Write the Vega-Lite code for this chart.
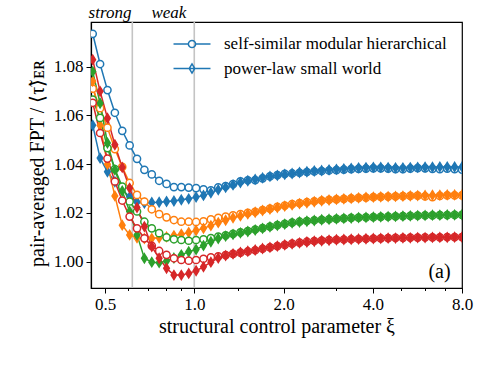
{
"$schema":"https://vega.github.io/schema/vega-lite/v6.json",
"width":371,"height":266,
"autosize":{"type":"none"},
"padding":{"left":91,"top":22,"right":29,"bottom":80},
"background":"white",
"datasets":{
"refs":[{"x":0.618},{"x":1.0}],
"notes":[{"x":0.5197,"y":1.1,"t":"strong"},{"x":0.8215,"y":1.1,"t":"weak"}],
"panel":[{"x":6.72,"y":0.9933,"t":"(a)"}],
"main":[
{"x":0.4544,"y":1.0935,"grp":"g1","net":"SSMH"},{"x":0.4812,"y":1.0811,"grp":"g1","net":"SSMH"},{"x":0.5095,"y":1.0704,"grp":"g1","net":"SSMH"},{"x":0.5397,"y":1.0611,"grp":"g1","net":"SSMH"},{"x":0.5715,"y":1.0537,"grp":"g1","net":"SSMH"},{"x":0.6053,"y":1.0477,"grp":"g1","net":"SSMH"},{"x":0.641,"y":1.0422,"grp":"g1","net":"SSMH"},{"x":0.6788,"y":1.0377,"grp":"g1","net":"SSMH"},{"x":0.7189,"y":1.0358,"grp":"g1","net":"SSMH"},{"x":0.7613,"y":1.0332,"grp":"g1","net":"SSMH"},{"x":0.8063,"y":1.0319,"grp":"g1","net":"SSMH"},{"x":0.8539,"y":1.0306,"grp":"g1","net":"SSMH"},{"x":0.9043,"y":1.0306,"grp":"g1","net":"SSMH"},{"x":0.9577,"y":1.0304,"grp":"g1","net":"SSMH"},{"x":1.0143,"y":1.0302,"grp":"g1","net":"SSMH"},{"x":1.0742,"y":1.0297,"grp":"g1","net":"SSMH"},{"x":1.1376,"y":1.0293,"grp":"g1","net":"SSMH"},{"x":1.2048,"y":1.0305,"grp":"g1","net":"SSMH"},{"x":1.2759,"y":1.031,"grp":"g1","net":"SSMH"},{"x":1.3513,"y":1.0318,"grp":"g1","net":"SSMH"},{"x":1.4311,"y":1.033,"grp":"g1","net":"SSMH"},{"x":1.5155,"y":1.0334,"grp":"g1","net":"SSMH"},{"x":1.605,"y":1.0335,"grp":"g1","net":"SSMH"},{"x":1.6998,"y":1.0342,"grp":"g1","net":"SSMH"},{"x":1.8001,"y":1.035,"grp":"g1","net":"SSMH"},{"x":1.9065,"y":1.0355,"grp":"g1","net":"SSMH"},{"x":2.0191,"y":1.036,"grp":"g1","net":"SSMH"},{"x":2.1382,"y":1.0362,"grp":"g1","net":"SSMH"},{"x":2.2645,"y":1.0365,"grp":"g1","net":"SSMH"},{"x":2.3982,"y":1.0368,"grp":"g1","net":"SSMH"},{"x":2.5398,"y":1.037,"grp":"g1","net":"SSMH"},{"x":2.6898,"y":1.0372,"grp":"g1","net":"SSMH"},{"x":2.8486,"y":1.0374,"grp":"g1","net":"SSMH"},{"x":3.0168,"y":1.0376,"grp":"g1","net":"SSMH"},{"x":3.195,"y":1.0378,"grp":"g1","net":"SSMH"},{"x":3.3836,"y":1.038,"grp":"g1","net":"SSMH"},{"x":3.5834,"y":1.0381,"grp":"g1","net":"SSMH"},{"x":3.7951,"y":1.0382,"grp":"g1","net":"SSMH"},{"x":4.019,"y":1.0383,"grp":"g1","net":"SSMH"},{"x":4.2562,"y":1.0383,"grp":"g1","net":"SSMH"},{"x":4.5074,"y":1.0382,"grp":"g1","net":"SSMH"},{"x":4.7734,"y":1.038,"grp":"g1","net":"SSMH"},{"x":5.0555,"y":1.038,"grp":"g1","net":"SSMH"},{"x":5.3539,"y":1.0382,"grp":"g1","net":"SSMH"},{"x":5.67,"y":1.0384,"grp":"g1","net":"SSMH"},{"x":6.0052,"y":1.0383,"grp":"g1","net":"SSMH"},{"x":6.3596,"y":1.0381,"grp":"g1","net":"SSMH"},{"x":6.7351,"y":1.038,"grp":"g1","net":"SSMH"},{"x":7.1332,"y":1.0382,"grp":"g1","net":"SSMH"},{"x":7.5541,"y":1.038,"grp":"g1","net":"SSMH"},{"x":8.0,"y":1.0378,"grp":"g1","net":"SSMH"},
{"x":0.4544,"y":1.056,"grp":"g1","net":"PLSW"},{"x":0.4812,"y":1.0425,"grp":"g1","net":"PLSW"},{"x":0.5095,"y":1.0369,"grp":"g1","net":"PLSW"},{"x":0.5397,"y":1.0328,"grp":"g1","net":"PLSW"},{"x":0.5715,"y":1.0295,"grp":"g1","net":"PLSW"},{"x":0.6053,"y":1.0266,"grp":"g1","net":"PLSW"},{"x":0.641,"y":1.0245,"grp":"g1","net":"PLSW"},{"x":0.6788,"y":1.024,"grp":"g1","net":"PLSW"},{"x":0.7189,"y":1.0243,"grp":"g1","net":"PLSW"},{"x":0.7613,"y":1.0244,"grp":"g1","net":"PLSW"},{"x":0.8063,"y":1.0247,"grp":"g1","net":"PLSW"},{"x":0.8539,"y":1.0249,"grp":"g1","net":"PLSW"},{"x":0.9043,"y":1.0254,"grp":"g1","net":"PLSW"},{"x":0.9577,"y":1.0258,"grp":"g1","net":"PLSW"},{"x":1.0143,"y":1.0265,"grp":"g1","net":"PLSW"},{"x":1.0742,"y":1.0272,"grp":"g1","net":"PLSW"},{"x":1.1376,"y":1.0283,"grp":"g1","net":"PLSW"},{"x":1.2048,"y":1.0295,"grp":"g1","net":"PLSW"},{"x":1.2759,"y":1.0305,"grp":"g1","net":"PLSW"},{"x":1.3513,"y":1.0315,"grp":"g1","net":"PLSW"},{"x":1.4311,"y":1.0325,"grp":"g1","net":"PLSW"},{"x":1.5155,"y":1.0332,"grp":"g1","net":"PLSW"},{"x":1.605,"y":1.0338,"grp":"g1","net":"PLSW"},{"x":1.6998,"y":1.0344,"grp":"g1","net":"PLSW"},{"x":1.8001,"y":1.035,"grp":"g1","net":"PLSW"},{"x":1.9065,"y":1.0354,"grp":"g1","net":"PLSW"},{"x":2.0191,"y":1.0358,"grp":"g1","net":"PLSW"},{"x":2.1382,"y":1.0362,"grp":"g1","net":"PLSW"},{"x":2.2645,"y":1.0366,"grp":"g1","net":"PLSW"},{"x":2.3982,"y":1.0369,"grp":"g1","net":"PLSW"},{"x":2.5398,"y":1.0372,"grp":"g1","net":"PLSW"},{"x":2.6898,"y":1.0374,"grp":"g1","net":"PLSW"},{"x":2.8486,"y":1.0377,"grp":"g1","net":"PLSW"},{"x":3.0168,"y":1.0379,"grp":"g1","net":"PLSW"},{"x":3.195,"y":1.0381,"grp":"g1","net":"PLSW"},{"x":3.3836,"y":1.0383,"grp":"g1","net":"PLSW"},{"x":3.5834,"y":1.0385,"grp":"g1","net":"PLSW"},{"x":3.7951,"y":1.0386,"grp":"g1","net":"PLSW"},{"x":4.019,"y":1.0387,"grp":"g1","net":"PLSW"},{"x":4.2562,"y":1.0387,"grp":"g1","net":"PLSW"},{"x":4.5074,"y":1.0386,"grp":"g1","net":"PLSW"},{"x":4.7734,"y":1.0385,"grp":"g1","net":"PLSW"},{"x":5.0555,"y":1.0385,"grp":"g1","net":"PLSW"},{"x":5.3539,"y":1.0386,"grp":"g1","net":"PLSW"},{"x":5.67,"y":1.0387,"grp":"g1","net":"PLSW"},{"x":6.0052,"y":1.0388,"grp":"g1","net":"PLSW"},{"x":6.3596,"y":1.0388,"grp":"g1","net":"PLSW"},{"x":6.7351,"y":1.0389,"grp":"g1","net":"PLSW"},{"x":7.1332,"y":1.0389,"grp":"g1","net":"PLSW"},{"x":7.5541,"y":1.0389,"grp":"g1","net":"PLSW"},{"x":8.0,"y":1.0389,"grp":"g1","net":"PLSW"},
{"x":0.4544,"y":1.071,"grp":"g2","net":"SSMH"},{"x":0.4812,"y":1.063,"grp":"g2","net":"SSMH"},{"x":0.5095,"y":1.055,"grp":"g2","net":"SSMH"},{"x":0.5397,"y":1.0462,"grp":"g2","net":"SSMH"},{"x":0.5715,"y":1.0389,"grp":"g2","net":"SSMH"},{"x":0.6053,"y":1.0323,"grp":"g2","net":"SSMH"},{"x":0.641,"y":1.0274,"grp":"g2","net":"SSMH"},{"x":0.6788,"y":1.0247,"grp":"g2","net":"SSMH"},{"x":0.7189,"y":1.0215,"grp":"g2","net":"SSMH"},{"x":0.7613,"y":1.0195,"grp":"g2","net":"SSMH"},{"x":0.8063,"y":1.0182,"grp":"g2","net":"SSMH"},{"x":0.8539,"y":1.0171,"grp":"g2","net":"SSMH"},{"x":0.9043,"y":1.0164,"grp":"g2","net":"SSMH"},{"x":0.9577,"y":1.0164,"grp":"g2","net":"SSMH"},{"x":1.0143,"y":1.0163,"grp":"g2","net":"SSMH"},{"x":1.0742,"y":1.0166,"grp":"g2","net":"SSMH"},{"x":1.1376,"y":1.0174,"grp":"g2","net":"SSMH"},{"x":1.2048,"y":1.018,"grp":"g2","net":"SSMH"},{"x":1.2759,"y":1.0185,"grp":"g2","net":"SSMH"},{"x":1.3513,"y":1.019,"grp":"g2","net":"SSMH"},{"x":1.4311,"y":1.0195,"grp":"g2","net":"SSMH"},{"x":1.5155,"y":1.02,"grp":"g2","net":"SSMH"},{"x":1.605,"y":1.0205,"grp":"g2","net":"SSMH"},{"x":1.6998,"y":1.0212,"grp":"g2","net":"SSMH"},{"x":1.8001,"y":1.0218,"grp":"g2","net":"SSMH"},{"x":1.9065,"y":1.0225,"grp":"g2","net":"SSMH"},{"x":2.0191,"y":1.023,"grp":"g2","net":"SSMH"},{"x":2.1382,"y":1.0236,"grp":"g2","net":"SSMH"},{"x":2.2645,"y":1.024,"grp":"g2","net":"SSMH"},{"x":2.3982,"y":1.0244,"grp":"g2","net":"SSMH"},{"x":2.5398,"y":1.0248,"grp":"g2","net":"SSMH"},{"x":2.6898,"y":1.0251,"grp":"g2","net":"SSMH"},{"x":2.8486,"y":1.0254,"grp":"g2","net":"SSMH"},{"x":3.0168,"y":1.0256,"grp":"g2","net":"SSMH"},{"x":3.195,"y":1.0258,"grp":"g2","net":"SSMH"},{"x":3.3836,"y":1.026,"grp":"g2","net":"SSMH"},{"x":3.5834,"y":1.0262,"grp":"g2","net":"SSMH"},{"x":3.7951,"y":1.0263,"grp":"g2","net":"SSMH"},{"x":4.019,"y":1.0265,"grp":"g2","net":"SSMH"},{"x":4.2562,"y":1.0266,"grp":"g2","net":"SSMH"},{"x":4.5074,"y":1.0267,"grp":"g2","net":"SSMH"},{"x":4.7734,"y":1.0268,"grp":"g2","net":"SSMH"},{"x":5.0555,"y":1.0269,"grp":"g2","net":"SSMH"},{"x":5.3539,"y":1.027,"grp":"g2","net":"SSMH"},{"x":5.67,"y":1.0271,"grp":"g2","net":"SSMH"},{"x":6.0052,"y":1.0268,"grp":"g2","net":"SSMH"},{"x":6.3596,"y":1.0265,"grp":"g2","net":"SSMH"},{"x":6.7351,"y":1.027,"grp":"g2","net":"SSMH"},{"x":7.1332,"y":1.0272,"grp":"g2","net":"SSMH"},{"x":7.5541,"y":1.0272,"grp":"g2","net":"SSMH"},{"x":8.0,"y":1.0272,"grp":"g2","net":"SSMH"},
{"x":0.4544,"y":1.074,"grp":"g2","net":"PLSW"},{"x":0.4812,"y":1.056,"grp":"g2","net":"PLSW"},{"x":0.5095,"y":1.04,"grp":"g2","net":"PLSW"},{"x":0.5397,"y":1.027,"grp":"g2","net":"PLSW"},{"x":0.5715,"y":1.015,"grp":"g2","net":"PLSW"},{"x":0.6053,"y":1.011,"grp":"g2","net":"PLSW"},{"x":0.641,"y":1.0098,"grp":"g2","net":"PLSW"},{"x":0.6788,"y":1.0095,"grp":"g2","net":"PLSW"},{"x":0.7189,"y":1.0096,"grp":"g2","net":"PLSW"},{"x":0.7613,"y":1.0098,"grp":"g2","net":"PLSW"},{"x":0.8063,"y":1.0102,"grp":"g2","net":"PLSW"},{"x":0.8539,"y":1.0107,"grp":"g2","net":"PLSW"},{"x":0.9043,"y":1.0113,"grp":"g2","net":"PLSW"},{"x":0.9577,"y":1.012,"grp":"g2","net":"PLSW"},{"x":1.0143,"y":1.0128,"grp":"g2","net":"PLSW"},{"x":1.0742,"y":1.0137,"grp":"g2","net":"PLSW"},{"x":1.1376,"y":1.0148,"grp":"g2","net":"PLSW"},{"x":1.2048,"y":1.016,"grp":"g2","net":"PLSW"},{"x":1.2759,"y":1.017,"grp":"g2","net":"PLSW"},{"x":1.3513,"y":1.018,"grp":"g2","net":"PLSW"},{"x":1.4311,"y":1.0188,"grp":"g2","net":"PLSW"},{"x":1.5155,"y":1.0196,"grp":"g2","net":"PLSW"},{"x":1.605,"y":1.0203,"grp":"g2","net":"PLSW"},{"x":1.6998,"y":1.021,"grp":"g2","net":"PLSW"},{"x":1.8001,"y":1.0216,"grp":"g2","net":"PLSW"},{"x":1.9065,"y":1.0222,"grp":"g2","net":"PLSW"},{"x":2.0191,"y":1.0228,"grp":"g2","net":"PLSW"},{"x":2.1382,"y":1.0233,"grp":"g2","net":"PLSW"},{"x":2.2645,"y":1.0238,"grp":"g2","net":"PLSW"},{"x":2.3982,"y":1.0242,"grp":"g2","net":"PLSW"},{"x":2.5398,"y":1.0246,"grp":"g2","net":"PLSW"},{"x":2.6898,"y":1.025,"grp":"g2","net":"PLSW"},{"x":2.8486,"y":1.0253,"grp":"g2","net":"PLSW"},{"x":3.0168,"y":1.0256,"grp":"g2","net":"PLSW"},{"x":3.195,"y":1.0258,"grp":"g2","net":"PLSW"},{"x":3.3836,"y":1.026,"grp":"g2","net":"PLSW"},{"x":3.5834,"y":1.0262,"grp":"g2","net":"PLSW"},{"x":3.7951,"y":1.0264,"grp":"g2","net":"PLSW"},{"x":4.019,"y":1.0265,"grp":"g2","net":"PLSW"},{"x":4.2562,"y":1.0266,"grp":"g2","net":"PLSW"},{"x":4.5074,"y":1.0267,"grp":"g2","net":"PLSW"},{"x":4.7734,"y":1.0268,"grp":"g2","net":"PLSW"},{"x":5.0555,"y":1.0269,"grp":"g2","net":"PLSW"},{"x":5.3539,"y":1.027,"grp":"g2","net":"PLSW"},{"x":5.67,"y":1.0271,"grp":"g2","net":"PLSW"},{"x":6.0052,"y":1.0272,"grp":"g2","net":"PLSW"},{"x":6.3596,"y":1.0273,"grp":"g2","net":"PLSW"},{"x":6.7351,"y":1.0273,"grp":"g2","net":"PLSW"},{"x":7.1332,"y":1.0274,"grp":"g2","net":"PLSW"},{"x":7.5541,"y":1.0274,"grp":"g2","net":"PLSW"},{"x":8.0,"y":1.0274,"grp":"g2","net":"PLSW"},
{"x":0.4544,"y":1.0665,"grp":"g3","net":"SSMH"},{"x":0.4812,"y":1.059,"grp":"g3","net":"SSMH"},{"x":0.5095,"y":1.0466,"grp":"g3","net":"SSMH"},{"x":0.5397,"y":1.038,"grp":"g3","net":"SSMH"},{"x":0.5715,"y":1.0308,"grp":"g3","net":"SSMH"},{"x":0.6053,"y":1.0247,"grp":"g3","net":"SSMH"},{"x":0.641,"y":1.0206,"grp":"g3","net":"SSMH"},{"x":0.6788,"y":1.0164,"grp":"g3","net":"SSMH"},{"x":0.7189,"y":1.0137,"grp":"g3","net":"SSMH"},{"x":0.7613,"y":1.0117,"grp":"g3","net":"SSMH"},{"x":0.8063,"y":1.01,"grp":"g3","net":"SSMH"},{"x":0.8539,"y":1.0092,"grp":"g3","net":"SSMH"},{"x":0.9043,"y":1.0089,"grp":"g3","net":"SSMH"},{"x":0.9577,"y":1.0086,"grp":"g3","net":"SSMH"},{"x":1.0143,"y":1.0089,"grp":"g3","net":"SSMH"},{"x":1.0742,"y":1.0092,"grp":"g3","net":"SSMH"},{"x":1.1376,"y":1.0097,"grp":"g3","net":"SSMH"},{"x":1.2048,"y":1.0103,"grp":"g3","net":"SSMH"},{"x":1.2759,"y":1.0108,"grp":"g3","net":"SSMH"},{"x":1.3513,"y":1.0114,"grp":"g3","net":"SSMH"},{"x":1.4311,"y":1.012,"grp":"g3","net":"SSMH"},{"x":1.5155,"y":1.0126,"grp":"g3","net":"SSMH"},{"x":1.605,"y":1.0132,"grp":"g3","net":"SSMH"},{"x":1.6998,"y":1.0138,"grp":"g3","net":"SSMH"},{"x":1.8001,"y":1.0144,"grp":"g3","net":"SSMH"},{"x":1.9065,"y":1.015,"grp":"g3","net":"SSMH"},{"x":2.0191,"y":1.0155,"grp":"g3","net":"SSMH"},{"x":2.1382,"y":1.016,"grp":"g3","net":"SSMH"},{"x":2.2645,"y":1.0164,"grp":"g3","net":"SSMH"},{"x":2.3982,"y":1.0167,"grp":"g3","net":"SSMH"},{"x":2.5398,"y":1.017,"grp":"g3","net":"SSMH"},{"x":2.6898,"y":1.0172,"grp":"g3","net":"SSMH"},{"x":2.8486,"y":1.0174,"grp":"g3","net":"SSMH"},{"x":3.0168,"y":1.0176,"grp":"g3","net":"SSMH"},{"x":3.195,"y":1.0178,"grp":"g3","net":"SSMH"},{"x":3.3836,"y":1.018,"grp":"g3","net":"SSMH"},{"x":3.5834,"y":1.0181,"grp":"g3","net":"SSMH"},{"x":3.7951,"y":1.0182,"grp":"g3","net":"SSMH"},{"x":4.019,"y":1.0183,"grp":"g3","net":"SSMH"},{"x":4.2562,"y":1.0184,"grp":"g3","net":"SSMH"},{"x":4.5074,"y":1.0185,"grp":"g3","net":"SSMH"},{"x":4.7734,"y":1.0186,"grp":"g3","net":"SSMH"},{"x":5.0555,"y":1.0187,"grp":"g3","net":"SSMH"},{"x":5.3539,"y":1.0188,"grp":"g3","net":"SSMH"},{"x":5.67,"y":1.0189,"grp":"g3","net":"SSMH"},{"x":6.0052,"y":1.019,"grp":"g3","net":"SSMH"},{"x":6.3596,"y":1.019,"grp":"g3","net":"SSMH"},{"x":6.7351,"y":1.0191,"grp":"g3","net":"SSMH"},{"x":7.1332,"y":1.0191,"grp":"g3","net":"SSMH"},{"x":7.5541,"y":1.0192,"grp":"g3","net":"SSMH"},{"x":8.0,"y":1.0192,"grp":"g3","net":"SSMH"},
{"x":0.4544,"y":1.078,"grp":"g3","net":"PLSW"},{"x":0.4812,"y":1.065,"grp":"g3","net":"PLSW"},{"x":0.5095,"y":1.0487,"grp":"g3","net":"PLSW"},{"x":0.5397,"y":1.0377,"grp":"g3","net":"PLSW"},{"x":0.5715,"y":1.029,"grp":"g3","net":"PLSW"},{"x":0.6053,"y":1.0206,"grp":"g3","net":"PLSW"},{"x":0.641,"y":1.011,"grp":"g3","net":"PLSW"},{"x":0.6788,"y":1.0014,"grp":"g3","net":"PLSW"},{"x":0.7189,"y":0.9998,"grp":"g3","net":"PLSW"},{"x":0.7613,"y":0.9996,"grp":"g3","net":"PLSW"},{"x":0.8063,"y":1.0003,"grp":"g3","net":"PLSW"},{"x":0.8539,"y":1.0015,"grp":"g3","net":"PLSW"},{"x":0.9043,"y":1.0028,"grp":"g3","net":"PLSW"},{"x":0.9577,"y":1.0041,"grp":"g3","net":"PLSW"},{"x":1.0143,"y":1.005,"grp":"g3","net":"PLSW"},{"x":1.0742,"y":1.0066,"grp":"g3","net":"PLSW"},{"x":1.1376,"y":1.0082,"grp":"g3","net":"PLSW"},{"x":1.2048,"y":1.0095,"grp":"g3","net":"PLSW"},{"x":1.2759,"y":1.0105,"grp":"g3","net":"PLSW"},{"x":1.3513,"y":1.0112,"grp":"g3","net":"PLSW"},{"x":1.4311,"y":1.0118,"grp":"g3","net":"PLSW"},{"x":1.5155,"y":1.0124,"grp":"g3","net":"PLSW"},{"x":1.605,"y":1.013,"grp":"g3","net":"PLSW"},{"x":1.6998,"y":1.0137,"grp":"g3","net":"PLSW"},{"x":1.8001,"y":1.0143,"grp":"g3","net":"PLSW"},{"x":1.9065,"y":1.0149,"grp":"g3","net":"PLSW"},{"x":2.0191,"y":1.0154,"grp":"g3","net":"PLSW"},{"x":2.1382,"y":1.0159,"grp":"g3","net":"PLSW"},{"x":2.2645,"y":1.0163,"grp":"g3","net":"PLSW"},{"x":2.3982,"y":1.0166,"grp":"g3","net":"PLSW"},{"x":2.5398,"y":1.0169,"grp":"g3","net":"PLSW"},{"x":2.6898,"y":1.0172,"grp":"g3","net":"PLSW"},{"x":2.8486,"y":1.0174,"grp":"g3","net":"PLSW"},{"x":3.0168,"y":1.0176,"grp":"g3","net":"PLSW"},{"x":3.195,"y":1.0178,"grp":"g3","net":"PLSW"},{"x":3.3836,"y":1.0179,"grp":"g3","net":"PLSW"},{"x":3.5834,"y":1.0181,"grp":"g3","net":"PLSW"},{"x":3.7951,"y":1.0182,"grp":"g3","net":"PLSW"},{"x":4.019,"y":1.0183,"grp":"g3","net":"PLSW"},{"x":4.2562,"y":1.0184,"grp":"g3","net":"PLSW"},{"x":4.5074,"y":1.0185,"grp":"g3","net":"PLSW"},{"x":4.7734,"y":1.0186,"grp":"g3","net":"PLSW"},{"x":5.0555,"y":1.0187,"grp":"g3","net":"PLSW"},{"x":5.3539,"y":1.0188,"grp":"g3","net":"PLSW"},{"x":5.67,"y":1.0189,"grp":"g3","net":"PLSW"},{"x":6.0052,"y":1.019,"grp":"g3","net":"PLSW"},{"x":6.3596,"y":1.0191,"grp":"g3","net":"PLSW"},{"x":6.7351,"y":1.0191,"grp":"g3","net":"PLSW"},{"x":7.1332,"y":1.0192,"grp":"g3","net":"PLSW"},{"x":7.5541,"y":1.0192,"grp":"g3","net":"PLSW"},{"x":8.0,"y":1.0193,"grp":"g3","net":"PLSW"},
{"x":0.4544,"y":1.0652,"grp":"g4","net":"SSMH"},{"x":0.4812,"y":1.0528,"grp":"g4","net":"SSMH"},{"x":0.5095,"y":1.0423,"grp":"g4","net":"SSMH"},{"x":0.5397,"y":1.0329,"grp":"g4","net":"SSMH"},{"x":0.5715,"y":1.0251,"grp":"g4","net":"SSMH"},{"x":0.6053,"y":1.0185,"grp":"g4","net":"SSMH"},{"x":0.641,"y":1.0137,"grp":"g4","net":"SSMH"},{"x":0.6788,"y":1.0096,"grp":"g4","net":"SSMH"},{"x":0.7189,"y":1.0065,"grp":"g4","net":"SSMH"},{"x":0.7613,"y":1.0044,"grp":"g4","net":"SSMH"},{"x":0.8063,"y":1.0028,"grp":"g4","net":"SSMH"},{"x":0.8539,"y":1.0014,"grp":"g4","net":"SSMH"},{"x":0.9043,"y":1.0007,"grp":"g4","net":"SSMH"},{"x":0.9577,"y":1.0004,"grp":"g4","net":"SSMH"},{"x":1.0143,"y":1.0007,"grp":"g4","net":"SSMH"},{"x":1.0742,"y":1.0012,"grp":"g4","net":"SSMH"},{"x":1.1376,"y":1.0018,"grp":"g4","net":"SSMH"},{"x":1.2048,"y":1.0022,"grp":"g4","net":"SSMH"},{"x":1.2759,"y":1.0027,"grp":"g4","net":"SSMH"},{"x":1.3513,"y":1.0032,"grp":"g4","net":"SSMH"},{"x":1.4311,"y":1.0037,"grp":"g4","net":"SSMH"},{"x":1.5155,"y":1.0042,"grp":"g4","net":"SSMH"},{"x":1.605,"y":1.0047,"grp":"g4","net":"SSMH"},{"x":1.6998,"y":1.0053,"grp":"g4","net":"SSMH"},{"x":1.8001,"y":1.0059,"grp":"g4","net":"SSMH"},{"x":1.9065,"y":1.0064,"grp":"g4","net":"SSMH"},{"x":2.0191,"y":1.0069,"grp":"g4","net":"SSMH"},{"x":2.1382,"y":1.0074,"grp":"g4","net":"SSMH"},{"x":2.2645,"y":1.0078,"grp":"g4","net":"SSMH"},{"x":2.3982,"y":1.0082,"grp":"g4","net":"SSMH"},{"x":2.5398,"y":1.0085,"grp":"g4","net":"SSMH"},{"x":2.6898,"y":1.0087,"grp":"g4","net":"SSMH"},{"x":2.8486,"y":1.0089,"grp":"g4","net":"SSMH"},{"x":3.0168,"y":1.009,"grp":"g4","net":"SSMH"},{"x":3.195,"y":1.0091,"grp":"g4","net":"SSMH"},{"x":3.3836,"y":1.0092,"grp":"g4","net":"SSMH"},{"x":3.5834,"y":1.0093,"grp":"g4","net":"SSMH"},{"x":3.7951,"y":1.0094,"grp":"g4","net":"SSMH"},{"x":4.019,"y":1.0095,"grp":"g4","net":"SSMH"},{"x":4.2562,"y":1.0096,"grp":"g4","net":"SSMH"},{"x":4.5074,"y":1.0097,"grp":"g4","net":"SSMH"},{"x":4.7734,"y":1.0098,"grp":"g4","net":"SSMH"},{"x":5.0555,"y":1.0098,"grp":"g4","net":"SSMH"},{"x":5.3539,"y":1.0099,"grp":"g4","net":"SSMH"},{"x":5.67,"y":1.0099,"grp":"g4","net":"SSMH"},{"x":6.0052,"y":1.01,"grp":"g4","net":"SSMH"},{"x":6.3596,"y":1.01,"grp":"g4","net":"SSMH"},{"x":6.7351,"y":1.01,"grp":"g4","net":"SSMH"},{"x":7.1332,"y":1.0101,"grp":"g4","net":"SSMH"},{"x":7.5541,"y":1.0101,"grp":"g4","net":"SSMH"},{"x":8.0,"y":1.0101,"grp":"g4","net":"SSMH"},
{"x":0.4544,"y":1.0829,"grp":"g4","net":"PLSW"},{"x":0.4812,"y":1.0699,"grp":"g4","net":"PLSW"},{"x":0.5095,"y":1.0589,"grp":"g4","net":"PLSW"},{"x":0.5397,"y":1.048,"grp":"g4","net":"PLSW"},{"x":0.5715,"y":1.0387,"grp":"g4","net":"PLSW"},{"x":0.6053,"y":1.0302,"grp":"g4","net":"PLSW"},{"x":0.641,"y":1.0222,"grp":"g4","net":"PLSW"},{"x":0.6788,"y":1.0144,"grp":"g4","net":"PLSW"},{"x":0.7189,"y":1.0062,"grp":"g4","net":"PLSW"},{"x":0.7613,"y":1.0014,"grp":"g4","net":"PLSW"},{"x":0.8063,"y":0.9973,"grp":"g4","net":"PLSW"},{"x":0.8539,"y":0.9945,"grp":"g4","net":"PLSW"},{"x":0.9043,"y":0.9945,"grp":"g4","net":"PLSW"},{"x":0.9577,"y":0.9952,"grp":"g4","net":"PLSW"},{"x":1.0143,"y":0.9963,"grp":"g4","net":"PLSW"},{"x":1.0742,"y":0.9979,"grp":"g4","net":"PLSW"},{"x":1.1376,"y":0.9998,"grp":"g4","net":"PLSW"},{"x":1.2048,"y":1.0015,"grp":"g4","net":"PLSW"},{"x":1.2759,"y":1.0025,"grp":"g4","net":"PLSW"},{"x":1.3513,"y":1.0032,"grp":"g4","net":"PLSW"},{"x":1.4311,"y":1.0038,"grp":"g4","net":"PLSW"},{"x":1.5155,"y":1.0043,"grp":"g4","net":"PLSW"},{"x":1.605,"y":1.0048,"grp":"g4","net":"PLSW"},{"x":1.6998,"y":1.0054,"grp":"g4","net":"PLSW"},{"x":1.8001,"y":1.0059,"grp":"g4","net":"PLSW"},{"x":1.9065,"y":1.0064,"grp":"g4","net":"PLSW"},{"x":2.0191,"y":1.0069,"grp":"g4","net":"PLSW"},{"x":2.1382,"y":1.0073,"grp":"g4","net":"PLSW"},{"x":2.2645,"y":1.0077,"grp":"g4","net":"PLSW"},{"x":2.3982,"y":1.0081,"grp":"g4","net":"PLSW"},{"x":2.5398,"y":1.0084,"grp":"g4","net":"PLSW"},{"x":2.6898,"y":1.0086,"grp":"g4","net":"PLSW"},{"x":2.8486,"y":1.0088,"grp":"g4","net":"PLSW"},{"x":3.0168,"y":1.009,"grp":"g4","net":"PLSW"},{"x":3.195,"y":1.0091,"grp":"g4","net":"PLSW"},{"x":3.3836,"y":1.0092,"grp":"g4","net":"PLSW"},{"x":3.5834,"y":1.0093,"grp":"g4","net":"PLSW"},{"x":3.7951,"y":1.0094,"grp":"g4","net":"PLSW"},{"x":4.019,"y":1.0095,"grp":"g4","net":"PLSW"},{"x":4.2562,"y":1.0096,"grp":"g4","net":"PLSW"},{"x":4.5074,"y":1.0097,"grp":"g4","net":"PLSW"},{"x":4.7734,"y":1.0097,"grp":"g4","net":"PLSW"},{"x":5.0555,"y":1.0098,"grp":"g4","net":"PLSW"},{"x":5.3539,"y":1.0098,"grp":"g4","net":"PLSW"},{"x":5.67,"y":1.0099,"grp":"g4","net":"PLSW"},{"x":6.0052,"y":1.0099,"grp":"g4","net":"PLSW"},{"x":6.3596,"y":1.01,"grp":"g4","net":"PLSW"},{"x":6.7351,"y":1.01,"grp":"g4","net":"PLSW"},{"x":7.1332,"y":1.01,"grp":"g4","net":"PLSW"},{"x":7.5541,"y":1.0101,"grp":"g4","net":"PLSW"},{"x":8.0,"y":1.0101,"grp":"g4","net":"PLSW"}
]},
"layer":[
{"data":{"name":"refs"},"mark":{"type":"rule","color":"#c4c4c4","strokeWidth":1.6},
 "encoding":{"x":{"field":"x","type":"quantitative","scale":{"type":"log","base":2,"domain":[0.4484,8],"nice":false,"zero":false}}}},
{"data":{"name":"main"},"mark":{"type":"line","strokeWidth":1.5,"clip":true},
 "encoding":{
  "x":{"field":"x","type":"quantitative","scale":{"type":"log","base":2,"domain":[0.4484,8],"nice":false,"zero":false},
   "axis":{"title":"structural control parameter ξ","values":[0.5,0.6,0.7,0.8,0.9,1,1.4,2,3,4,5,6,7,8],
    "labelExpr":"indexof([0.5,1,2,4,8], datum.value) >= 0 ? format(datum.value, '.1f') : ''",
    "tickSize":{"condition":{"test":"indexof([0.5,1,2,4,8], datum.value) < 0","value":2.5},"value":5},
    "labelOverlap":false,"labelFlush":false,"labelPadding":3,"titlePadding":4,"labelFont":"Liberation Serif"}},
  "y":{"field":"y","type":"quantitative","scale":{"domain":[0.98921,1.09834],"nice":false,"zero":false},
   "axis":{"title":"pair-averaged FPT  / ⟨τ̃⟩ᴇʀ","values":[1.0,1.02,1.04,1.06,1.08],"format":".2f","labelFlush":false,"labelPadding":3,"titlePadding":6,"titleY":141,"labelFont":"Liberation Serif"}},
  "color":{"field":"grp","type":"nominal","scale":{"domain":["g1","g2","g3","g4"],"range":["#1f77b4","#ff7f0e","#2ca02c","#d62728"]},"legend":null},
  "detail":{"field":"net"}}},
{"data":{"name":"main"},"mark":{"type":"point","strokeWidth":1.5,"opacity":1,"size":52,"clip":true},
 "encoding":{
  "x":{"field":"x","type":"quantitative","scale":{"type":"log","base":2,"domain":[0.4484,8],"nice":false,"zero":false}},
  "y":{"field":"y","type":"quantitative","scale":{"domain":[0.98921,1.09834],"nice":false,"zero":false}},
  "stroke":{"field":"grp","type":"nominal","scale":{"domain":["g1","g2","g3","g4"],"range":["#1f77b4","#ff7f0e","#2ca02c","#d62728"]},"legend":null},
  "fill":{"condition":{"test":"datum.net === 'PLSW'","field":"grp","type":"nominal","scale":{"domain":["g1","g2","g3","g4"],"range":["#1f77b4","#ff7f0e","#2ca02c","#d62728"]},"legend":null},"value":"#ffffff"},
  "shape":{"field":"net","type":"nominal","scale":{"domain":["SSMH","PLSW"],"range":["circle","M0,-1.25L0.78,0L0,1.25L-0.78,0Z"]},"legend":null}}},
{"data":{"name":"notes"},"mark":{"type":"text","font":"Liberation Serif","fontStyle":"italic","fontSize":17,"baseline":"alphabetic","align":"center","color":"#000"},
 "encoding":{
  "x":{"field":"x","type":"quantitative","scale":{"type":"log","base":2,"domain":[0.4484,8],"nice":false,"zero":false}},
  "y":{"field":"y","type":"quantitative","scale":{"domain":[0.98921,1.09834],"nice":false,"zero":false}},
  "text":{"field":"t"}}},
{"data":{"name":"panel"},"mark":{"type":"text","font":"Liberation Serif","fontSize":20,"baseline":"alphabetic","align":"center","color":"#000"},
 "encoding":{
  "x":{"field":"x","type":"quantitative","scale":{"type":"log","base":2,"domain":[0.4484,8],"nice":false,"zero":false}},
  "y":{"field":"y","type":"quantitative","scale":{"domain":[0.98921,1.09834],"nice":false,"zero":false}},
  "text":{"field":"t"}}},
{"data":{"name":"main"},"transform":[{"filter":"datum.grp === 'g1' && datum.x < 0.46"}],
 "mark":{"type":"point","opacity":0,"size":342},
 "encoding":{
  "x":{"field":"x","type":"quantitative","scale":{"type":"log","base":2,"domain":[0.4484,8],"nice":false,"zero":false}},
  "y":{"field":"y","type":"quantitative","scale":{"domain":[0.98921,1.09834],"nice":false,"zero":false}},
  "shape":{"field":"net","type":"nominal",
   "scale":{"domain":["SSMH","PLSW"],"range":["M-2,0H-0.39M0.39,0H2M0.39,0A0.39,0.39,0,1,1,-0.39,0A0.39,0.39,0,1,1,0.39,0Z","M-2,0H2M0,-0.49L0.3,0L0,0.49L-0.3,0Z"]},
   "legend":{"title":null,"orient":"none","legendX":91,"legendY":12,"padding":0,"symbolSize":342,"labelOffset":22,"rowPadding":6.5,"labelLimit":0,
    "labelFont":"Liberation Serif","labelFontSize":17,"labelColor":"#000","symbolStrokeWidth":1.5,"symbolStrokeColor":"#1f77b4","symbolOpacity":1,
    "labelExpr":"datum.label === 'SSMH' ? 'self-similar modular hierarchical' : 'power-law small world'",
    "encode":{"symbols":{"update":{"fill":{"signal":"datum.value === 'PLSW' ? '#1f77b4' : '#ffffff'"},"stroke":{"value":"#1f77b4"},"strokeWidth":{"value":1.5},"opacity":{"value":1}}}}}}}}
],
"resolve":{"scale":{"shape":"independent"}},
"config":{
 "view":{"stroke":"#000","strokeWidth":1.2},
 "font":"Liberation Serif",
 "text":{"font":"Liberation Serif"},
 "style":{"guide-label":{"font":"Liberation Serif"},"guide-title":{"font":"Liberation Serif"}},
 "legend":{"labelFont":"Liberation Serif","titleFont":"Liberation Serif"},
 "axis":{"grid":false,"domainColor":"#000","domainWidth":1.2,"tickColor":"#000","tickWidth":1,"labelFont":"Liberation Serif","labelFontSize":17,"labelColor":"#000","titleFont":"Liberation Serif","titleFontSize":20,"titleFontWeight":"normal","titleColor":"#000"}
}
}
